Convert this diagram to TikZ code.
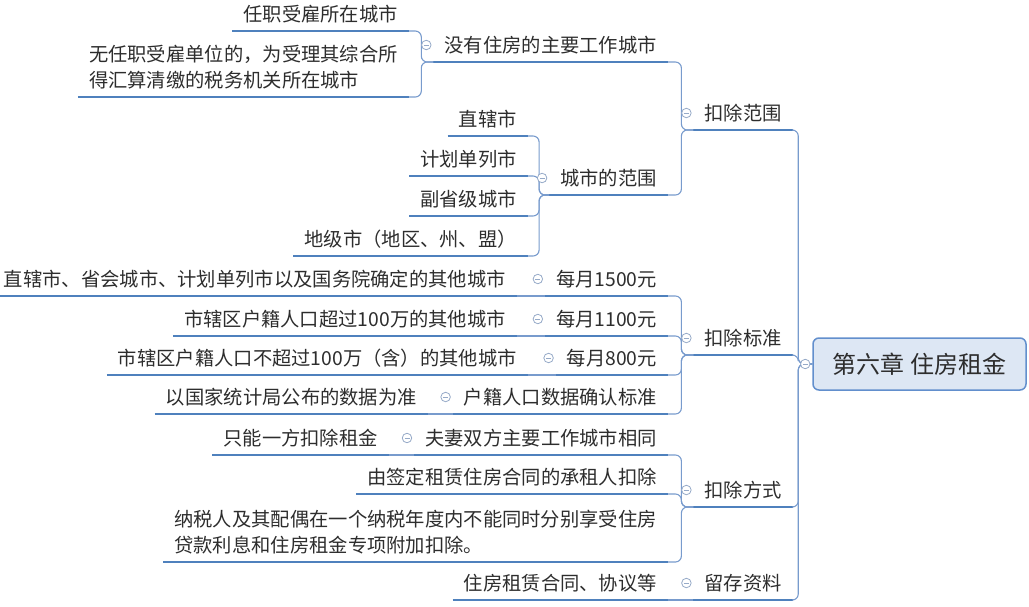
\documentclass[tikz,border=0pt]{standalone}
\usepackage{fontspec}
\setmainfont{Noto Sans CJK SC}
\usetikzlibrary{positioning}
\definecolor{LineBlue}{RGB}{79,129,189}
\definecolor{LinkBlue}{RGB}{120,155,205}
\definecolor{RootFill}{RGB}{221,231,244}
\definecolor{RootEdge}{RGB}{98,143,205}
\definecolor{FoldGray}{RGB}{150,170,200}
\definecolor{TxtGray}{RGB}{45,45,45}
\tikzset{
  topic/.style={anchor=south east,inner xsep=11pt,inner ysep=5pt,text depth=4pt,
    text=TxtGray,font=\fontsize{19.3}{26.5}\selectfont,align=left},
  uline/.style={draw=LineBlue,line width=2.8pt},
  link/.style={draw=LinkBlue,line width=1.1pt,rounded corners=6pt},
  fold/.style={circle,draw=FoldGray,fill=white,line width=0.8pt,minimum size=9.5pt,inner sep=0pt,
    path picture={\draw[FoldGray,line width=0.8pt]
      ([xshift=-2.5pt]path picture bounding box.center) -- ([xshift=2.5pt]path picture bounding box.center);}},
  rootbox/.style={draw=RootEdge,fill=RootFill,line width=1.5pt,rounded corners=6pt,
    minimum width=213pt,minimum height=52pt,text=TxtGray,font=\fontsize{24}{28}\selectfont},
}

\begin{document}
\begin{tikzpicture}[x=1pt,y=-1pt]
\useasboundingbox (0,0) rectangle (1029,606);
\node[rootbox] (root) at (919.5,364) {第六章 住房租金};
% first level
\node[topic] (fw) at (793,130) {扣除范围};
\node[topic] (bz) at (793,355) {扣除标准};
\node[topic] (fs) at (793,507) {扣除方式};
\node[topic] (zl) at (793,600) {留存资料};
% second level
\node[topic] (fw1) at (668,62) {没有住房的主要工作城市};
\node[topic] (fw2) at (668,195) {城市的范围};
\node[topic] (bz1) at (668,296) {每月1500元};
\node[topic] (bz2) at (668,336) {每月1100元};
\node[topic] (bz3) at (668,375) {每月800元};
\node[topic] (bz4) at (668,414) {户籍人口数据确认标准};
\node[topic] (fs1) at (668,455) {夫妻双方主要工作城市相同};
\node[topic] (fs2) at (668,494) {由签定租赁住房合同的承租人扣除};
\node[topic] (fs3) at (668,562) {纳税人及其配偶在一个纳税年度内不能同时分别享受住房\\贷款利息和住房租金专项附加扣除。};
\node[topic] (zl1) at (668,600) {住房租赁合同、协议等};
% third level
\node[topic] (fw1a) at (409,31) {任职受雇所在城市};
\node[topic] (fw1b) at (409,97) {无任职受雇单位的，为受理其综合所\\得汇算清缴的税务机关所在城市};
\node[topic] (fw2a) at (528,136) {直辖市};
\node[topic] (fw2b) at (528,176) {计划单列市};
\node[topic] (fw2c) at (528,216) {副省级城市};
\node[topic] (fw2d) at (528,256) {地级市（地区、州、盟）};
\node[topic] (bz1a) at (517,296) {直辖市、省会城市、计划单列市以及国务院确定的其他城市};
\node[topic] (bz2a) at (517,336) {市辖区户籍人口超过100万的其他城市};
\node[topic] (bz3a) at (528,375) {市辖区户籍人口不超过100万（含）的其他城市};
\node[topic] (bz4a) at (428,414) {以国家统计局公布的数据为准};
\node[topic] (fs1a) at (389,455) {只能一方扣除租金};
% underlines
\foreach \n in {fw,bz,fs,zl,fw1,fw2,bz1,bz2,bz3,bz4,fs1,fs2,fs3,zl1,
  fw1a,fw1b,fw2a,fw2b,fw2c,fw2d,bz1a,bz2a,bz3a,bz4a,fs1a}
  \draw[uline] (\n.south west) -- (\n.south east);
% connectors
\foreach \c in {fw,bz,fs,zl}
  \draw[link] (root.west) -- ++(-14,0) |- (\c.south east);
\foreach \c in {fw1,fw2}
  \draw[link] (fw.south west) -- ++(-12,0) |- (\c.south east);
\foreach \c in {bz1,bz2,bz3,bz4}
  \draw[link] (bz.south west) -- ++(-12,0) |- (\c.south east);
\foreach \c in {fs1,fs2,fs3}
  \draw[link] (fs.south west) -- ++(-12,0) |- (\c.south east);
\draw[link] (zl.south west) -- (zl1.south east);
\foreach \c in {fw1a,fw1b}
  \draw[link] (fw1.south west) -- ++(-12,0) |- (\c.south east);
\foreach \c in {fw2a,fw2b,fw2c,fw2d}
  \draw[link] (fw2.south west) -- ++(-10,0) |- (\c.south east);
\draw[link] (bz1.south west) -- (bz1a.south east);
\draw[link] (bz2.south west) -- (bz2a.south east);
\draw[link] (bz3.south west) -- (bz3a.south east);
\draw[link] (bz4.south west) -- (bz4a.south east);
\draw[link] (fs1.south west) -- (fs1a.south east);
% fold markers
\node[fold] (rootf) at ([xshift=-7pt]root.west) {};
\foreach \n in {fw,bz,fs,zl,fw1,fw2,bz1,bz2,bz3,bz4,fs1}
  \node[fold] (\n f) at ([xshift=-7pt,yshift=17pt]\n.south west) {};
\end{tikzpicture}
\end{document}
